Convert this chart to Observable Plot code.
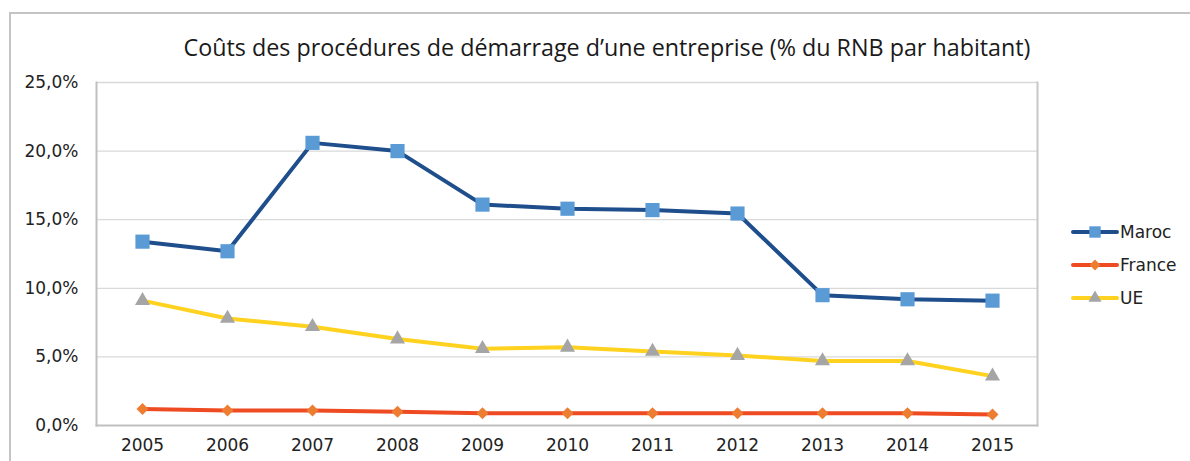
<!DOCTYPE html>
<html>
<head>
<meta charset="utf-8">
<script src="https://cdn.jsdelivr.net/npm/d3@7"></script>
<script src="https://cdn.jsdelivr.net/npm/@observablehq/plot@0.6"></script>
<style>
  html, body { margin: 0; padding: 0; background: #fff; overflow: hidden; }
  #wrap { position: relative; width: 1190px; height: 461px; overflow: hidden; }
  #frame { position: absolute; left: 9px; top: 12px; width: 1300px; height: 600px; border: 2px solid #c4c4c4; box-sizing: border-box; }
  #title { position: absolute; left: 0; width: 1214px; top: 31px; text-align: center;
           font-family: "Open Sans", sans-serif; font-size: 23.3px; color: #1a1a1a; }
  #chart { position: absolute; left: 0; top: 0; }
  #legend { position: absolute; left: 1071px; top: 215px; font-family: "DejaVu Sans", sans-serif; font-size: 17px; color: #222; }
  .item { display: flex; align-items: center; height: 33px; }
  .item svg { margin-right: 1px; }
</style>
</head>
<body>
<div id="wrap">
  <div id="frame"></div>
  <div id="chart"></div>
  <div id="title">Coûts des procédures de démarrage d’une entreprise (% du RNB par habitant)</div>
  <div id="legend"></div>
</div>
<script>
const years = ["2005","2006","2007","2008","2009","2010","2011","2012","2013","2014","2015"];
const maroc  = [13.4, 12.7, 20.6, 20.0, 16.1, 15.8, 15.7, 15.45, 9.5, 9.2, 9.1];
const france = [1.2, 1.1, 1.1, 1.0, 0.9, 0.9, 0.9, 0.9, 0.9, 0.9, 0.8];
const ue     = [9.1, 7.8, 7.2, 6.3, 5.6, 5.7, 5.4, 5.1, 4.7, 4.7, 3.6];
const yTicks = [0, 5, 10, 15, 20, 25];

const seriesDefs = [
  {name: "Maroc",  values: maroc,  line: "#1f4e8c", fill: "#5b9bd5", symbol: "square",   r: 8},
  {name: "France", values: france, line: "#ee4b22", fill: "#ed7d31", symbol: "diamond2", r: 5.4},
  {name: "UE",     values: ue,     line: "#ffd21f", fill: "#a5a5a5", symbol: "triangle", r: 5.6}
];

const rows = seriesDefs.flatMap(s => years.map((y, i) => ({serie: s.name, year: y, value: s.values[i]})));

const fmt = v => v.toFixed(1).replace(".", ",") + "%";

const marks = [
  Plot.ruleY(yTicks.filter(t => t > 0), {stroke: "#d9d9d9", strokeWidth: 1.3}),
];
for (const s of seriesDefs) {
  const d = rows.filter(r => r.serie === s.name);
  marks.push(Plot.line(d, {x: "year", y: "value", stroke: s.line, strokeWidth: 4, strokeLinejoin: "round"}));
}
for (const s of seriesDefs) {
  const d = rows.filter(r => r.serie === s.name);
  marks.push(Plot.dot(d, {x: "year", y: "value", symbol: () => s.symbol, r: s.r, fill: s.fill, stroke: "none"}));
}
marks.push(Plot.frame({anchor: "left", stroke: "#bfbfbf", strokeWidth: 2}));
marks.push(Plot.frame({anchor: "bottom", stroke: "#bfbfbf", strokeWidth: 2}));
marks.push(Plot.frame({anchor: "right", stroke: "#c8c8c8", strokeWidth: 2}));

const chart = Plot.plot({
  width: 1190,
  height: 461,
  marginLeft: 96,
  marginRight: 153,
  marginTop: 82,
  marginBottom: 36,
  style: {fontFamily: "'DejaVu Sans', sans-serif", fontSize: "17px", color: "#222", background: "transparent"},
  x: {type: "point", domain: years, padding: 0.5, label: null, tickSize: 0, tickPadding: 13},
  y: {domain: [0, 25], ticks: yTicks, tickFormat: fmt, label: null, tickSize: 0, tickPadding: 18},
  symbol: {type: "identity"},
  marks
});
document.getElementById("chart").appendChild(chart);

// Legend
const legend = d3.select("#legend");
for (const s of seriesDefs) {
  const item = legend.append("div").attr("class", "item");
  const svg = item.append("svg").attr("width", 48).attr("height", 20);
  svg.append("line").attr("x1", 2).attr("x2", 46).attr("y1", 10).attr("y2", 10)
     .attr("stroke", s.line).attr("stroke-width", 4).attr("stroke-linecap", "round");
  svg.append("path").attr("transform", "translate(24,10)")
     .attr("d", d3.symbol(s.symbol === "square" ? d3.symbolSquare : s.symbol === "triangle" ? d3.symbolTriangle : d3.symbolDiamond2,
                          s.symbol === "square" ? 130 : 75)())
     .attr("fill", s.fill);
  item.append("span").text(s.name);
}
</script>
</body>
</html>
